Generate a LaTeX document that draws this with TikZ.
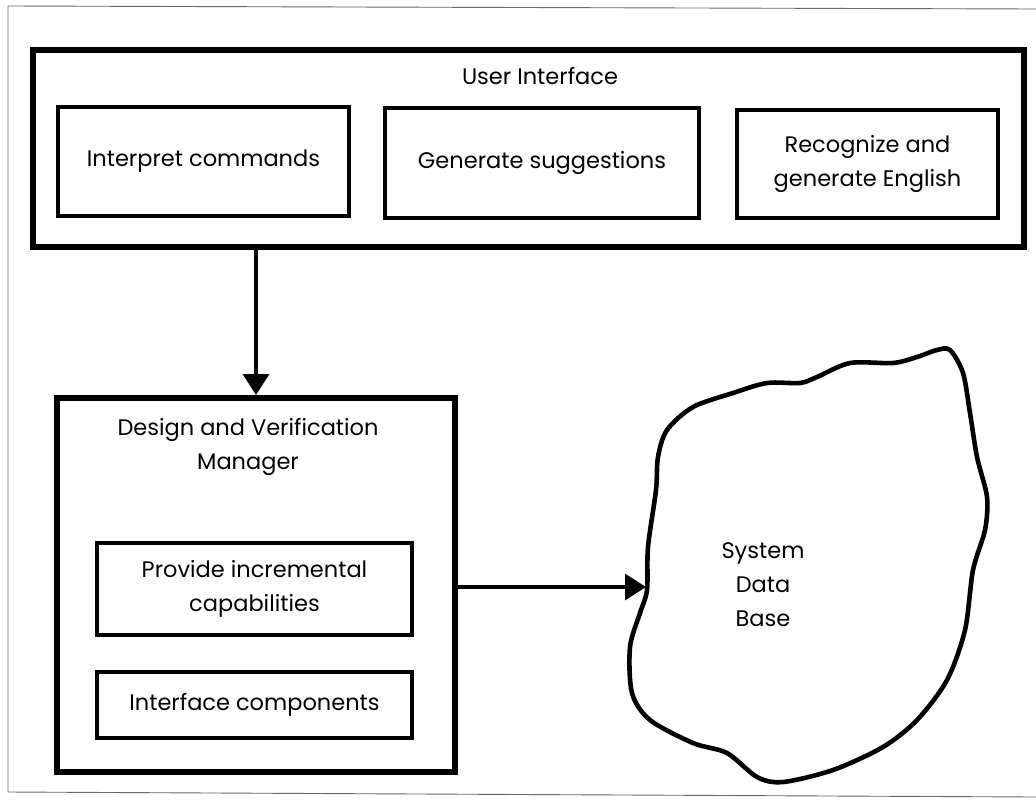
\documentclass[tikz,border=0pt]{standalone}
\usepackage{fontspec}
\setmainfont{Poppins}
\usetikzlibrary{arrows.meta}
\begin{document}
\begin{tikzpicture}[x=1pt,y=-1pt,
  every node/.style={font=\fontsize{22.5}{34}\selectfont, align=center, inner sep=0pt},
  outerbox/.style={draw, line width=6pt, rectangle},
  innerbox/.style={draw, line width=3.6pt, rectangle},
  flow/.style={line width=3.2pt, -{Triangle[length=21pt,width=26pt]}},
  blobline/.style={line width=4.6pt, line join=round}]
  % page extent and thin scan frame
  \useasboundingbox (0,0) rectangle (1036,801);
  \draw[line width=0.9pt, black!60] (1036,9) -- (8,6) -- (8,792) -- (1036,797);

  % user interface block
  \node[outerbox, minimum width=991pt, minimum height=197pt] (ui) at (528.5,148.5) {};
  \node (uititle) at (540,76) {User Interface};
  \node[innerbox, minimum width=291pt, minimum height=109pt] (cmd) at (203.5,161.5) {Interpret commands};
  \node[innerbox, minimum width=314pt, minimum height=110pt] (sug) at (542,163) {Generate suggestions};
  \node[innerbox, minimum width=261pt, minimum height=108pt] (eng) at (867.5,164) {Recognize and\\generate English};

  % design and verification manager
  \node[outerbox, minimum width=398pt, minimum height=374pt] (dvm) at (256,585) {};
  \node (dvmtitle) at (248,447) {Design and Verification\\Manager};
  \node[innerbox, minimum width=315pt, minimum height=92pt] (inc) at (254.5,589) {Provide incremental\\capabilities};
  \node[innerbox, minimum width=315pt, minimum height=66pt] (ifc) at (254.5,705) {Interface components};

  % system data base outline
  \draw[blobline] plot[smooth cycle, tension=0.5] coordinates {
    (950,350) (963,373) (970,413) (977,457) (987,497) (985,530) (973,570)
    (965,630) (947,680) (917,720) (883,747) (833,770) (783,782) (757,777)
    (727,753) (693,743) (650,720) (632,693) (630,647) (640,613) (647,590)
    (648,547) (656,490) (658,457) (667,430) (693,407) (733,393) (767,383)
    (800,383) (817,377) (850,363) (893,363) (917,357) (937,350)};
  \coordinate (dbedge) at (646,587);
  \node (db) at (763,585) {System\\Data\\Base};

  % connectors
  \draw[flow] (ui.south -| dvm.north) -- (dvm.north);
  \draw[flow] (dvm.east |- dbedge) -- (dbedge);
\end{tikzpicture}
\end{document}
